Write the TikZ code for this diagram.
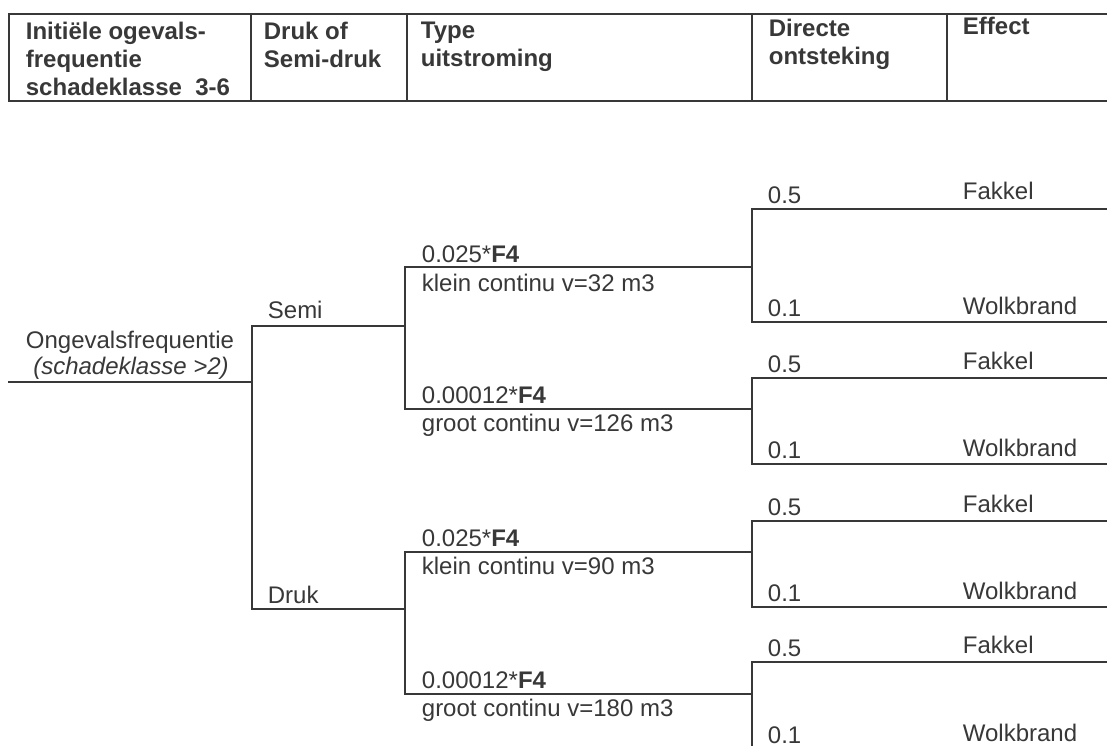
\documentclass[tikz,border=0pt]{standalone}
\usepackage{fontspec}
\setmainfont{Liberation Sans}
\usepackage{xcolor}
\usepackage{tikz}
\usetikzlibrary{arrows.meta, positioning, calc}
\definecolor{inkt}{gray}{0.22}

\begin{document}
\begin{tikzpicture}[x=1pt, y=-1pt, line width=1.8pt, color=inkt,
    every node/.style={inner sep=0pt, font=\fontsize{24}{28}\selectfont},
    lbl/.style={anchor=base west},
    kop/.style={anchor=north west, align=left, font=\fontsize{24}{28}\selectfont\bfseries}]
    \clip (0,0) rectangle (1107,746);
    \fill[white] (0,0) rectangle (1107,746);

    % kop van de tabel
    \draw (1110,14) -- (9,14) -- (9,101) -- (1110,101);
    \foreach \x in {251, 407, 752, 947}
        \draw (\x,14) -- (\x,101);
    \node[kop] (kInit) at (25,21) {Initiële ogevals-\\frequentie\\schadeklasse~~3-6};
    \node[kop] (kDruk) at (263,21) {Druk of\\Semi-druk};
    \node[kop] (kType) at (420,21) {Type\\uitstroming};
    \node[kop] (kOnst) at (768,18) {Directe\\ontsteking};
    \node[kop] (kEff) at (962,16) {Effect};

    % effecttakken
    \foreach \f/\s/\w [count=\j] in {209/267/322, 378/409/464, 521/552/607, 662/694/749} {
        \coordinate (ef\j) at (752,\f);
        \coordinate (es\j) at (752,\s);
        \coordinate (ew\j) at (752,\w);
        \coordinate (efr\j) at (1110,\f);
        \coordinate (ewr\j) at (1110,\w);
        \draw (efr\j) -- (ef\j) -- (ew\j) -- (ewr\j);
        \node[lbl] (pf\j) at (767,{\f-6}) {0.5};
        \node[lbl] (fk\j) at (962,{\f-9}) {Fakkel};
        \node[lbl] (pw\j) at (767,{\w-6}) {0.1};
        \node[lbl] (wb\j) at (962,{\w-8}) {Wolkbrand};
    }

    % boom
    \coordinate (r0) at (8,382);
    \coordinate (r1) at (252,382);
    \coordinate (s1) at (252,326);
    \coordinate (s2) at (405,326);
    \coordinate (d1) at (252,609);
    \coordinate (d2) at (405,609);
    \coordinate (ta1) at (405,267);
    \coordinate (tb1) at (405,409);
    \coordinate (ta2) at (405,552);
    \coordinate (tb2) at (405,694);
    \draw (r0) -- (r1);
    \draw (s2) -- (s1) -- (d1) -- (d2);
    \draw (es1) -- (ta1) -- (tb1) -- (es2);
    \draw (es3) -- (ta2) -- (tb2) -- (es4);

    \node[anchor=base] (ong) at (130,348) {Ongevalsfrequentie};
    \node[anchor=base] (skl) at (131,374) {\itshape (schadeklasse >2)};
    \node[lbl] (semi) at (267,318) {Semi};
    \node[lbl] (druk) at (267,603) {Druk};

    % uitstroming
    \node[lbl] (kf1) at (421,262) {0.025*\textbf{F4}};
    \node[lbl] (kv1) at (421,291) {klein continu v=32 m3};
    \node[lbl] (gf1) at (421,403) {0.00012*\textbf{F4}};
    \node[lbl] (gv1) at (421,431) {groot continu v=126 m3};
    \node[lbl] (kf2) at (421,546) {0.025*\textbf{F4}};
    \node[lbl] (kv2) at (421,574) {klein continu v=90 m3};
    \node[lbl] (gf2) at (421,688) {0.00012*\textbf{F4}};
    \node[lbl] (gv2) at (421,716) {groot continu v=180 m3};
\end{tikzpicture}
\end{document}
